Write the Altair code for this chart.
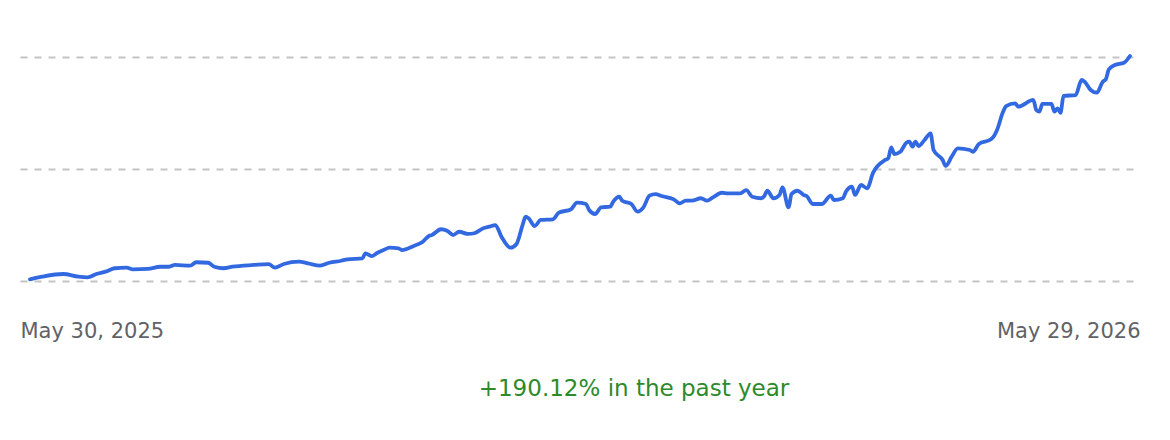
import altair as alt
import pandas as pd

# one year of closing values, day offsets from the first date
start_date = "2025-05-30"
days = [0, 4, 11, 16, 19, 22, 25, 28, 32, 34, 39, 43, 46, 48, 53, 55, 59, 61, 64, 67,
        74, 79, 81, 84, 89, 92, 96, 99, 103, 105, 110, 111, 113, 115, 117, 119, 122, 123, 127, 130,
        132, 133, 136, 138, 140, 142, 145, 147, 150, 152, 154, 156, 159, 161, 163, 164, 165, 167, 169, 173,
        175, 179, 181, 184, 185, 187, 189, 192, 193, 195, 196, 199, 201, 203, 205, 207, 209, 213, 215, 217,
        219, 222, 224, 226, 229, 231, 235, 237, 239, 242, 243, 244, 246, 248, 249, 251, 252, 254, 256, 257,
        259, 262, 265, 266, 269, 270, 272, 273, 275, 277, 279, 283, 284, 285, 286, 288, 290, 291, 292, 293,
        294, 296, 298, 299, 302, 303, 305, 307, 311, 312, 314, 318, 319, 320, 322, 323, 326, 327, 332, 333,
        334, 335, 338, 339, 340, 341, 342, 346, 348, 349, 351, 353, 355, 356, 357, 359, 362, 364]
values = [100.0, 102.2, 104.5, 102.2, 101.7, 104.5, 106.5, 109.4, 109.9, 108.5, 108.8, 110.7, 110.7, 112.2, 111.6, 114.5, 114.1, 110.7, 109.4, 110.7,
          112.2, 113.0, 109.9, 113.0, 115.0, 113.6, 111.6, 114.1, 115.8, 117.0, 117.9, 122.1, 119.8, 122.6, 124.9, 126.9, 126.4, 124.9, 128.4, 132.0,
          136.9, 137.7, 142.6, 141.4, 137.7, 140.5, 138.6, 139.2, 143.4, 144.8, 146.2, 136.3, 126.9, 130.1, 146.2, 153.3, 151.9, 145.4, 150.5, 151.1,
          156.7, 159.6, 165.2, 164.1, 159.0, 155.6, 161.3, 161.8, 166.1, 170.3, 166.9, 164.1, 157.6, 161.3, 171.2, 172.6, 170.9, 168.1, 164.7, 166.9,
          166.9, 169.0, 166.9, 169.8, 173.7, 173.2, 173.2, 176.0, 170.3, 169.0, 170.9, 175.4, 169.0, 171.8, 178.3, 161.3, 172.6, 175.4, 171.8, 170.9,
          164.1, 164.1, 171.2, 167.5, 169.0, 174.6, 178.8, 171.8, 180.3, 177.5, 190.8, 201.6, 203.0, 212.4, 206.7, 208.6, 216.3, 217.2, 212.9, 217.2,
          213.5, 218.6, 224.3, 210.1, 201.6, 196.5, 204.4, 211.5, 210.1, 208.6, 215.2, 219.2, 222.0, 227.1, 242.7, 247.5, 249.8, 247.0, 252.7, 244.1,
          242.7, 249.3, 249.3, 242.7, 245.6, 241.8, 256.1, 256.9, 269.7, 268.2, 261.2, 258.9, 268.2, 270.3, 278.8, 282.5, 284.4, 290.12]

grid_values = [98.55, 193.91, 289.27]
change_text = "+190.12% in the past year"

df = pd.DataFrame({
    "date": pd.Timestamp(start_date) + pd.to_timedelta(days, unit="D"),
    "value": values,
})

chart = (
    alt.Chart(df)
    .mark_line(color="#3369e0", strokeWidth=3.8, interpolate="monotone",
               strokeCap="round", strokeJoin="round")
    .encode(
        x=alt.X(
            "date:T",
            title=None,
            scale=alt.Scale(padding=10, nice=False),
            axis=alt.Axis(
                values=[alt.DateTime(year=2025, month=5, date=30),
                        alt.DateTime(year=2026, month=5, date=29)],
                format="%b %d, %Y",
                # first label left-aligned, last one right-aligned, both pushed to the grid ends
                labelAlign={"condition": {"test": "datum.index == 0", "value": "left"}, "value": "right"},
                labelOffset={"condition": {"test": "datum.index == 0", "value": -10}, "value": 10},
                labelFlush=False,
                grid=False, domain=False, ticks=False,
                labelFont="DejaVu Sans", labelFontSize=21, labelColor="#5f6368",
                labelBaseline="alphabetic", labelPadding=56,
            ),
        ),
        y=alt.Y(
            "value:Q",
            title=None,
            scale=alt.Scale(domain=[grid_values[0], grid_values[-1]], nice=False, zero=False),
            axis=alt.Axis(
                values=grid_values, labels=False, ticks=False, domain=False,
                grid=True, gridDash=[7, 7], gridColor="#c4c4c4", gridWidth=2,
            ),
        ),
    )
    .properties(
        width=1120,
        height=224,
        autosize="none",
        padding={"left": 12, "top": 49, "right": 22, "bottom": 151},
        title=alt.Title(change_text, orient="bottom", anchor="middle", dx=54, offset=37,
                        font="DejaVu Sans", fontSize=23, fontWeight="normal", color="#2d8a2a"),
    )
    .configure_view(stroke=None)
)

chart.save("out.html", embed_options={"renderer": "svg", "actions": False})
